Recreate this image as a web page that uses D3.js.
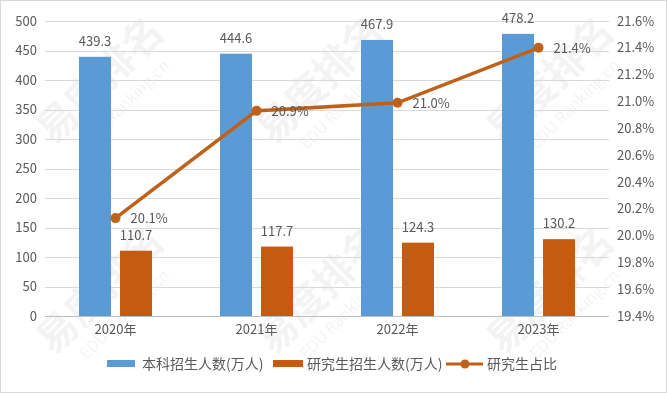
<!DOCTYPE html>
<html>
  <head>
    <meta charset="utf-8">
    <script src="https://cdn.jsdelivr.net/npm/d3@7/dist/d3.min.js" charset="utf-8"></script>
    <style>
      body { margin: 0; background: #fff; }
      text { font-family: "Noto Sans CJK SC", "Noto Sans", sans-serif; fill: #595959; }
    </style>
  </head>
  <body>
    <script type="text/javascript">
      var w = 667;
      var h = 393;

      var years = ["2020年", "2021年", "2022年", "2023年"];
      var undergrad = [439.3, 444.6, 467.9, 478.2];
      var postgrad = [110.7, 117.7, 124.3, 130.2];
      var share = [20.13, 20.93, 20.99, 21.40];
      var shareLabels = ["20.1%", "20.9%", "21.0%", "21.4%"];
      var leftTicks = [0, 50, 100, 150, 200, 250, 300, 350, 400, 450, 500];
      var rightTicks = [19.4, 19.6, 19.8, 20.0, 20.2, 20.4, 20.6, 20.8, 21.0, 21.2, 21.4, 21.6];
      var seriesNames = ["本科招生人数(万人)", "研究生招生人数(万人)", "研究生占比"];

      var blue = "#5B9BD5";
      var orange = "#C55A11";
      var lineColor = "#C0611A";

      // area do grafico
      var plotL = 45, plotR = 609, plotT = 21, plotB = 316;

      var svg = d3.select("body")
                  .append("svg")
                    .attr("width", w)
                    .attr("height", h);

      svg.append("rect")
         .attr("x", 0.5).attr("y", 0.5)
         .attr("width", w - 1).attr("height", h - 1)
         .attr("fill", "#fff")
         .attr("stroke", "#d9d9d9");

      // Marca d'agua
      var wm = svg.append("g").attr("opacity", 0.05);
      [[110, 90], [330, 90], [560, 90], [110, 300], [330, 300], [560, 300]].forEach(function(p){
        var g = wm.append("g").attr("transform", "translate(" + p[0] + "," + p[1] + ") rotate(-45)");
        g.append("text").text("易度排名")
          .attr("text-anchor", "middle")
          .attr("font-size", 40).attr("font-weight", "bold")
          .style("fill", "#000");
        g.append("text").text("EDU Ranking.cn")
          .attr("text-anchor", "middle").attr("y", 26)
          .attr("font-size", 16)
          .style("fill", "#000");
      });

      var x = d3.scaleBand().domain(years).range([plotL, plotR]);
      var xs = d3.scaleBand().domain([0, 1]).range([0, 73]).paddingInner(9 / 41);
      var y = d3.scaleLinear().domain([0, 500]).range([plotB, plotT]);
      var y2 = d3.scaleLinear().domain([19.4, 21.6]).range([plotB, plotT]);

      // Linhas de grade
      svg.append("g")
         .selectAll("line")
         .data(leftTicks)
         .enter()
         .append("line")
           .attr("x1", plotL).attr("x2", plotR)
           .attr("y1", function(d){ return Math.round(y(d)) + 0.5; })
           .attr("y2", function(d){ return Math.round(y(d)) + 0.5; })
           .attr("stroke", function(d){ return d === 0 ? "#bfbfbf" : "#d9d9d9"; });

      // Eixo esquerdo
      var axL = svg.append("g")
         .attr("transform", "translate(" + (plotL - 8) + ",0)")
         .call(d3.axisLeft(y).tickValues(leftTicks).tickSize(0).tickPadding(0));
      axL.select(".domain").remove();
      axL.selectAll("text").attr("font-size", 13).style("fill", "#595959");

      // Eixo direito
      var axR = svg.append("g")
         .attr("transform", "translate(" + (plotR + 8) + ",0)")
         .call(d3.axisRight(y2).tickValues(rightTicks).tickSize(0).tickPadding(0)
               .tickFormat(function(d){ return d.toFixed(1) + "%"; }));
      axR.select(".domain").remove();
      axR.selectAll("text").attr("font-size", 13).style("fill", "#595959");

      // Eixo x
      var axB = svg.append("g")
         .attr("transform", "translate(0," + (plotB + 9) + ")")
         .call(d3.axisBottom(x).tickSize(0).tickPadding(0));
      axB.select(".domain").remove();
      axB.selectAll("text").attr("font-size", 13).style("fill", "#595959");

      var off = (x.bandwidth() - 73) / 2;

      // Barras
      [undergrad, postgrad].forEach(function(vals, k){
        svg.append("g")
           .selectAll("rect")
           .data(vals)
           .enter()
           .append("rect")
             .attr("x", function(d, i){ return x(years[i]) + off + xs(k); })
             .attr("y", function(d){ return y(d); })
             .attr("width", xs.bandwidth())
             .attr("height", function(d){ return plotB - y(d); })
             .attr("fill", k === 0 ? blue : orange);

        svg.append("g")
           .selectAll("text")
           .data(vals)
           .enter()
           .append("text")
             .text(function(d){ return d.toFixed(1); })
             .attr("text-anchor", "middle")
             .attr("x", function(d, i){ return x(years[i]) + off + xs(k) + xs.bandwidth() / 2; })
             .attr("y", function(d){ return y(d) - 11; })
             .attr("font-size", 13);
      });

      // Linha de percentual
      var cx = function(d, i){ return x(years[i]) + x.bandwidth() / 2; };
      svg.append("path")
         .datum(share)
         .attr("d", d3.line().x(cx).y(function(d){ return y2(d); }))
         .attr("fill", "none")
         .attr("stroke", lineColor)
         .attr("stroke-width", 3.5);

      svg.append("g")
         .selectAll("circle")
         .data(share)
         .enter()
         .append("circle")
           .attr("cx", cx)
           .attr("cy", function(d){ return y2(d); })
           .attr("r", 5)
           .attr("fill", lineColor);

      svg.append("g")
         .selectAll("text")
         .data(share)
         .enter()
         .append("text")
           .text(function(d, i){ return shareLabels[i]; })
           .attr("x", function(d, i){ return cx(d, i) + 15; })
           .attr("y", function(d){ return y2(d) + 5; })
           .attr("font-size", 13);

      // Legenda
      var lg = svg.append("g").attr("transform", "translate(0,364)");
      lg.append("rect").attr("x", 107).attr("y", -4).attr("width", 28).attr("height", 7).attr("fill", blue);
      lg.append("text").text(seriesNames[0]).attr("x", 142).attr("y", 5).attr("font-size", 14);
      lg.append("rect").attr("x", 273).attr("y", -4).attr("width", 30).attr("height", 7).attr("fill", orange);
      lg.append("text").text(seriesNames[1]).attr("x", 307).attr("y", 5).attr("font-size", 14);
      lg.append("line").attr("x1", 446).attr("x2", 483).attr("y1", 0).attr("y2", 0)
        .attr("stroke", lineColor).attr("stroke-width", 3);
      lg.append("circle").attr("cx", 465).attr("cy", 0).attr("r", 4.5).attr("fill", lineColor);
      lg.append("text").text(seriesNames[2]).attr("x", 487).attr("y", 5).attr("font-size", 14);
    </script>
  </body>
</html>
